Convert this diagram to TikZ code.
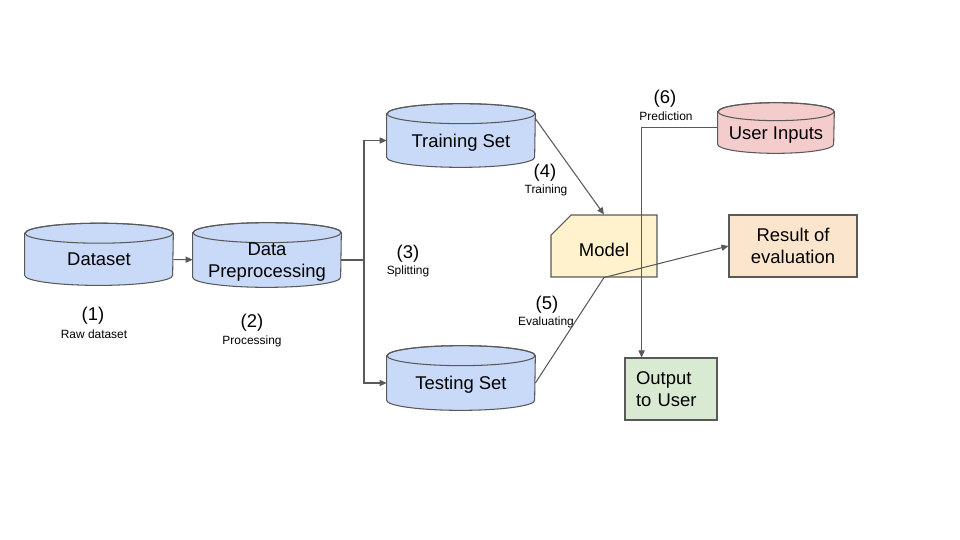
\documentclass[tikz,border=0pt]{standalone}
\usepackage{fontspec}
\setmainfont{Liberation Sans}
\usetikzlibrary{shapes.misc, arrows.meta}
\definecolor{linegray}{HTML}{595959}
\definecolor{setblue}{HTML}{C9DAF8}
\definecolor{inputpink}{HTML}{F4CCCC}
\definecolor{modelyellow}{HTML}{FFF2CC}
\definecolor{resultorange}{HTML}{FCE5CD}
\definecolor{outgreen}{HTML}{D9EAD3}
\newcommand{\boxfont}{\fontsize{10.5}{12.4}\selectfont}
\newcommand{\numfont}{\fontsize{10.5}{12}\selectfont}
\newcommand{\capfont}{\fontsize{6.8}{8}\selectfont}
% cylinder: half width, end radius, fill
\tikzset{drum/.style n args={3}{rectangle,inner sep=0pt,align=center,font=\boxfont,text depth=0pt,minimum width=2*#1,
    append after command={\pgfextra{\let\drumnode\tikzlastnode
      \filldraw[draw=linegray,fill=#3,line width=0.6pt]
        ([yshift=0.1cm]\drumnode.north west) -- ([yshift=0.1cm]\drumnode.south west)
        arc[start angle=180,end angle=360,x radius=#1,y radius=#2]
        -- ([yshift=0.1cm]\drumnode.north east)
        arc[start angle=0,end angle=180,x radius=#1,y radius=#2] -- cycle;
      \draw[linegray,line width=0.6pt] ([yshift=0.1cm]\drumnode.north) ellipse[x radius=#1,y radius=#2];}}}}

\begin{document}
\begin{tikzpicture}[x=0.02cm,y=-0.02cm]
				\tikzstyle{box} = [rectangle,draw=linegray,line width=0.6pt,font=\boxfont]
				\tikzstyle{num} = [font=\numfont,inner sep=0pt]
				\tikzstyle{caption} = [font=\capfont,inner sep=0pt]
				\tikzstyle{edge} = [draw=linegray,line width=0.6pt]
				\tikzstyle{link} = [edge,-{Triangle[length=4pt,width=3.5pt]}]
				\useasboundingbox (0,0) rectangle (960,540);
				\node[drum={1.48cm}{0.2cm}{setblue},minimum height=0.83cm] (data) at (99,259.3) {Dataset};
				\node[drum={1.48cm}{0.2cm}{setblue},minimum height=0.88cm] (prep) at (267,260) {Data\\Preprocessing};
				\node[drum={1.48cm}{0.2cm}{setblue},minimum height=0.86cm] (train) at (461,140.5) {Training Set};
				\node[drum={1.48cm}{0.2cm}{setblue},minimum height=0.88cm] (test) at (461,383) {Testing Set};
				\node[drum={1.16cm}{0.18cm}{inputpink},minimum height=0.64cm] (user) at (776,133) {User Inputs};
				\node[box,chamfered rectangle,chamfered rectangle corners=north west,chamfered rectangle sep=0.2cm,fill=modelyellow,minimum width=2.12cm,minimum height=1.24cm,text height=12.1pt,text depth=0pt] (model) at (604,246) {Model};
				\node[box,fill=resultorange,minimum width=2.56cm,minimum height=1.24cm,align=center] (result) at (793,246) {Result of\\evaluation};
				\node[box,fill=outgreen,minimum width=1.84cm,minimum height=1.24cm,align=left,text width=1.4cm] (out) at (671,389) {Output\\to User};
				\node[num] (n1) at (93,316) {(1)};
				\node[caption] (c1) at (94,334) {Raw dataset};
				\node[num] (n2) at (252,323) {(2)};
				\node[caption] (c2) at (252,341) {Processing};
				\node[num] (n3) at (408,254) {(3)};
				\node[caption] (c3) at (408,271) {Splitting};
				\node[num] (n4) at (545,173) {(4)};
				\node[caption] (c4) at (546,190) {Training};
				\node[num] (n5) at (547,305) {(5)};
				\node[caption] (c5) at (546,322) {Evaluating};
				\node[num] (n6) at (665,99) {(6)};
				\node[caption] (c6) at (666,116) {Prediction};
				\coordinate (split) at (364,260);
				\draw[link] (data) -- (prep);
				\draw[edge] (prep.east) -- (split);
				\draw[link] (split) |- (train.west);
				\draw[link] (split) |- (test.west);
				\draw[link] (train.north east) -- (model.north);
				\draw[link] (test.east) -- (model.south) -- (result.west);
				\draw[link] (user.175) -| (out.133);
				\end{tikzpicture}
\end{document}
